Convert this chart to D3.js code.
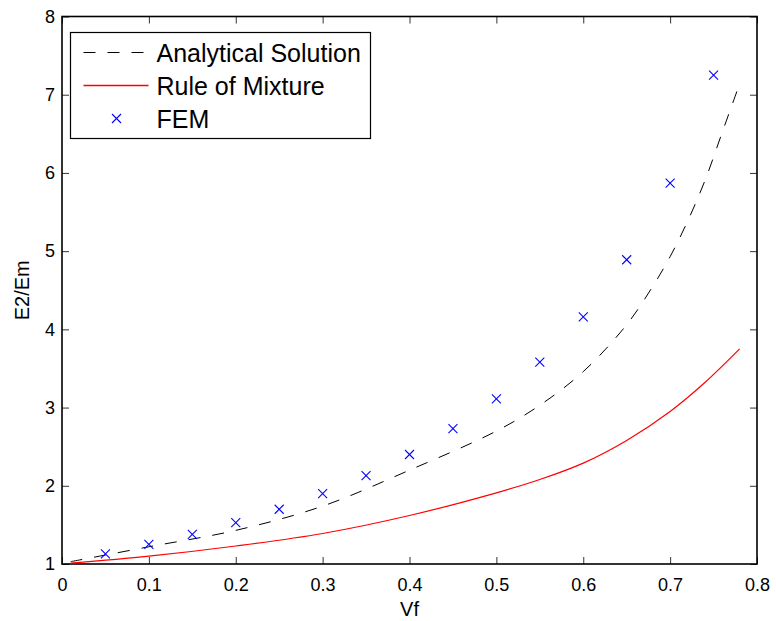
<!DOCTYPE html>
<html>
<head>
<meta charset="utf-8">
<script src="https://cdn.jsdelivr.net/npm/d3@7"></script>
<style>
  html, body { margin: 0; padding: 0; background: #fff; }
  svg { display: block; font-family: "Liberation Sans", Arial, Helvetica, sans-serif; }
</style>
</head>
<body>
<div id="chart"></div>
<script>
// ── Data ──
const femVf = [0.05, 0.10, 0.15, 0.20, 0.25, 0.30, 0.35, 0.40, 0.45, 0.50, 0.55, 0.60, 0.65, 0.70, 0.75];
const femE  = [1.13, 1.25, 1.38, 1.53, 1.70, 1.90, 2.13, 2.40, 2.73, 3.11, 3.58, 4.16, 4.89, 5.87, 7.25];

const anaVf = [0.01, 0.10, 0.20, 0.30, 0.40, 0.50, 0.55, 0.60, 0.65, 0.68, 0.70, 0.72, 0.74, 0.76, 0.78];
const anaE  = [1.03, 1.22, 1.43, 1.74, 2.20, 2.70, 3.03, 3.46, 4.06, 4.55, 4.93, 5.38, 5.90, 6.52, 7.14];

const romVf = [0.01, 0.10, 0.20, 0.30, 0.40, 0.50, 0.55, 0.60, 0.65, 0.70, 0.74, 0.78];
const romE  = [1.01, 1.10, 1.23, 1.39, 1.62, 1.91, 2.08, 2.29, 2.58, 2.95, 3.32, 3.75];

const xTicks = [0, 0.1, 0.2, 0.3, 0.4, 0.5, 0.6, 0.7, 0.8];
const yTicks = [1, 2, 3, 4, 5, 6, 7, 8];

const legendItems = ['Analytical Solution', 'Rule of Mixture', 'FEM'];

// ── Layout ──
const W = 776, H = 621;
const margin = { top: 16.5, right: 19, bottom: 57, left: 62 };
const cw = W - margin.left - margin.right;
const ch = H - margin.top - margin.bottom;

const svg = d3.select('#chart').append('svg').attr('width', W).attr('height', H);
const g = svg.append('g').attr('transform', 'translate(' + margin.left + ',' + margin.top + ')');

const x = d3.scaleLinear().domain([0, 0.8]).range([0, cw]);
const y = d3.scaleLinear().domain([1, 8]).range([ch, 0]);

// ── Axes (ticks inward on all four sides) ──
const fmtX = d => d === 0 ? '0' : d3.format('.1f')(d);
const tickStyle = sel => {
  sel.select('.domain').remove();
  sel.selectAll('.tick line').attr('stroke', '#333').attr('stroke-width', 1);
  sel.selectAll('text').style('font-size', '18px').attr('fill', '#000');
};

g.append('g').attr('transform', 'translate(0,' + ch + ')')
  .call(d3.axisBottom(x).tickValues(xTicks).tickFormat(fmtX).tickSizeInner(-7).tickSizeOuter(0).tickPadding(14))
  .call(tickStyle);
g.append('g')
  .call(d3.axisTop(x).tickValues(xTicks).tickFormat('').tickSizeInner(-7).tickSizeOuter(0))
  .call(tickStyle);
g.append('g')
  .call(d3.axisLeft(y).tickValues(yTicks).tickFormat(d3.format('d')).tickSizeInner(-7).tickSizeOuter(0).tickPadding(7))
  .call(tickStyle);
g.append('g').attr('transform', 'translate(' + cw + ',0)')
  .call(d3.axisRight(y).tickValues(yTicks).tickFormat('').tickSizeInner(-7).tickSizeOuter(0))
  .call(tickStyle);

// Frame
g.append('rect').attr('x', 0).attr('y', 0).attr('width', cw).attr('height', ch)
  .attr('fill', 'none').attr('stroke', '#000').attr('stroke-width', 1.6);

// ── Curves ──
const lineGen = d3.line().x(d => x(d[0])).y(d => y(d[1])).curve(d3.curveCatmullRom.alpha(0.5));

g.append('path').datum(anaVf.map((v, i) => [v, anaE[i]]))
  .attr('d', lineGen).attr('fill', 'none')
  .attr('stroke', '#000').attr('stroke-width', 1).attr('stroke-dasharray', '12,12');

g.append('path').datum(romVf.map((v, i) => [v, romE[i]]))
  .attr('d', lineGen).attr('fill', 'none')
  .attr('stroke', '#ff0000').attr('stroke-width', 1.2);

// FEM markers (x)
const mk = 4.5;
function cross(sel) {
  sel.append('line').attr('x1', -mk).attr('y1', -mk).attr('x2', mk).attr('y2', mk);
  sel.append('line').attr('x1', -mk).attr('y1', mk).attr('x2', mk).attr('y2', -mk);
}
g.selectAll('.fem').data(femVf.map((v, i) => [v, femE[i]])).enter().append('g')
  .attr('class', 'fem')
  .attr('transform', d => 'translate(' + x(d[0]) + ',' + y(d[1]) + ')')
  .attr('stroke', '#0000ff').attr('stroke-width', 1.1)
  .call(cross);

// ── Axis labels ──
svg.append('text').attr('x', margin.left + cw / 2).attr('y', 616)
  .attr('text-anchor', 'middle').style('font-size', '20px').text('Vf');
svg.append('text').attr('transform', 'translate(29,' + (margin.top + ch / 2) + ') rotate(-90)')
  .attr('text-anchor', 'middle').style('font-size', '20px').text('E2/Em');

// ── Legend ──
const lg = svg.append('g').attr('transform', 'translate(70.5,32.5)');
lg.append('rect').attr('width', 300).attr('height', 106)
  .attr('fill', '#fff').attr('stroke', '#000').attr('stroke-width', 1.2);
const rowY = [20, 53, 86];
legendItems.forEach((t, i) => {
  lg.append('text').attr('x', 86).attr('y', rowY[i] + 9).style('font-size', '25px').text(t);
});
lg.append('line').attr('x1', 13).attr('x2', 78).attr('y1', rowY[0]).attr('y2', rowY[0])
  .attr('stroke', '#000').attr('stroke-dasharray', '12,12');
lg.append('line').attr('x1', 13).attr('x2', 78).attr('y1', rowY[1]).attr('y2', rowY[1])
  .attr('stroke', '#ff0000').attr('stroke-width', 1.3);
lg.append('g').attr('transform', 'translate(46,' + rowY[2] + ')')
  .attr('stroke', '#0000ff').attr('stroke-width', 1.1)
  .call(cross);
</script>
</body>
</html>
